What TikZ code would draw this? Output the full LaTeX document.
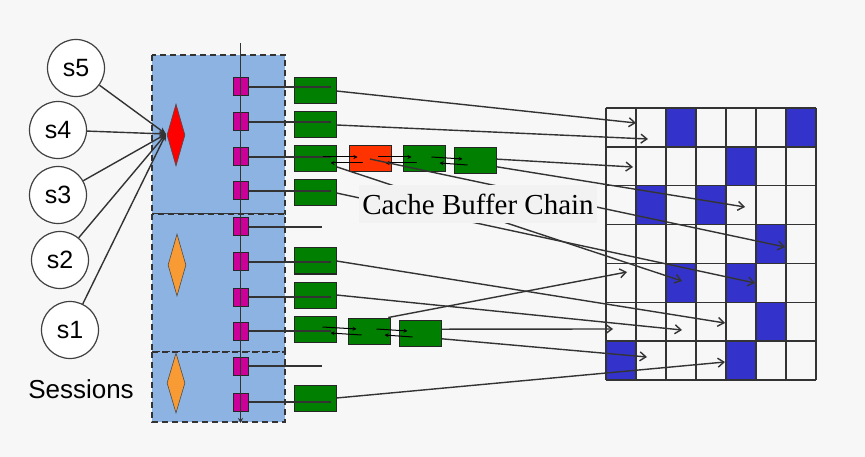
\documentclass[tikz,border=0pt]{standalone}
\usepackage{fontspec}
\setmainfont{Liberation Serif}
\setsansfont{Liberation Sans}
\usepackage{tikz}
\usetikzlibrary{shapes.geometric, arrows.meta, calc}
\definecolor{pagebg}{HTML}{F7F7F7}
\definecolor{panelbg}{HTML}{8DB3E2}
\definecolor{slotcol}{HTML}{CC0099}
\definecolor{bufgreen}{HTML}{007F00}
\definecolor{bufred}{HTML}{FF3300}
\definecolor{latchred}{HTML}{FF0000}
\definecolor{latchorange}{HTML}{F89B34}
\definecolor{cellblue}{HTML}{3333CC}
\definecolor{wirecol}{HTML}{333333}

\begin{document}
\begin{tikzpicture}[
    x=1pt, y=-1pt,
    every node/.style={inner sep=0pt},
    session/.style={circle, draw=black!75, line width=1.2pt, fill=white, minimum size=57pt, font=\sffamily\fontsize{25}{28}\selectfont},
    latch/.style={diamond, draw=black!70, line width=0.6pt, minimum width=18pt, minimum height=62pt},
    slot/.style={draw=black!85, fill=slotcol, line width=1pt, minimum width=15pt, minimum height=18pt},
    buffer/.style={draw=black!85, fill=bufgreen, line width=1pt, minimum width=42pt, minimum height=26pt},
    panel/.style={draw=black!80, fill=panelbg, dash pattern=on 6pt off 4pt, line width=1.3pt},
    wire/.style={draw=wirecol, line width=1.4pt},
    gridline/.style={draw=black!80, line width=1.5pt},
    hash/.style={wire, -{Straight Barb[length=6pt, width=9pt]}},
    link/.style={draw=black, line width=1pt, -{Stealth[length=4pt, width=4pt]}},
    sessionwire/.style={wire, -{Stealth[length=7pt, width=6pt]}}
]
\fill[pagebg] (0,0) rectangle (865,457);
\path[use as bounding box] (0,0) rectangle (865,457);

\draw[panel] (152,55) rectangle (285,214);
\draw[panel] (152,214) rectangle (285,352);
\draw[panel] (152,352) rectangle (285,422);

\node[latch, fill=latchred] (l1) at (176,135) {};
\node[latch, fill=latchorange] (l2) at (177,265) {};
\node[latch, fill=latchorange, minimum height=60pt] (l3) at (176,383) {};

\node[session] (s5) at (76,68) {s5};
\node[session] (s4) at (58,130) {s4};
\node[session] (s3) at (58,195) {s3};
\node[session] (s2) at (60,260) {s2};
\node[session] (s1) at (70,330) {s1};
\node[font=\sffamily\fontsize{26}{30}\selectfont] (sessions) at (81,389) {Sessions};

\coordinate (hub) at (166,134);
\foreach \i in {1,...,5}
  \draw[sessionwire] (s\i) -- (hub);

\foreach \y [count=\i] in {87,122,157,191,227,262,297,331,366,402}
  \node[slot] (m\i) at (240.5,\y) {};
\coordinate (bustop) at (240.5,43);
\coordinate (busend) at (240.5,423);
\draw[wire, -{Stealth[length=5pt, width=5pt]}] (bustop) -- (busend);

\node[buffer] (b1) at (315,91) {};
\node[buffer] (b2) at (315,125) {};
\node[buffer] (b3) at (315,159) {};
\node[buffer, fill=bufred] (b3r) at (370,159) {};
\node[buffer] (b3s) at (424,159) {};
\node[buffer] (b3t) at (475,161) {};
\node[buffer] (b4) at (315,193) {};
\node[buffer] (b6) at (315,261) {};
\node[buffer] (b7) at (315,295) {};
\node[buffer] (b8) at (315,329) {};
\node[buffer] (b8s) at (369,331) {};
\node[buffer] (b8t) at (420,333) {};
\node[buffer] (b10) at (315,398) {};

\foreach \i in {1,2,3,4,6,7,8,10}
  \draw[wire] (m\i.east) -- ($(m\i.east -| b\i.east)+(-6,0)$);
\coordinate (stub) at (322,0);
\foreach \i in {5,9}
  \draw[wire] (m\i.east) -- (m\i.east -| stub);

\foreach \a/\b in {b3/b3r, b3r/b3s, b3s/b3t, b8/b8s, b8s/b8t} {
  \draw[link] ($(\a.east)+(-14,-2)$) -- ($(\b.west)+(9,-2)$);
  \draw[link] ($(\b.west)+(14,4)$) -- ($(\a.east)+(-6,4)$);
}

\foreach \r/\c in {0/2,0/6,1/4,2/1,2/3,3/5,4/2,4/4,5/5,6/0,6/4}
  \fill[cellblue] (606+30*\c,108+38.857*\r) rectangle ++(30,38.857);
\foreach \i in {0,...,7} {
  \draw[gridline] (606+30*\i,108) -- (606+30*\i,380);
  \draw[gridline] (606,108+38.857*\i) -- (816,108+38.857*\i);
}

\coordinate (t1) at (636,123);
\coordinate (t2) at (648,139);
\coordinate (t3) at (633,167);
\coordinate (t4) at (745,207);
\coordinate (t5) at (785,247);
\coordinate (t6) at (682,281);
\coordinate (t7) at (755,283);
\coordinate (t8) at (627,272);
\coordinate (t9) at (725,323);
\coordinate (t10) at (682,330);
\coordinate (t11) at (613,329);
\coordinate (t12) at (647,357);
\coordinate (t13) at (725,362);

\foreach \s/\t in {b1.east/t1, b2.east/t2, b3t.5/t3, b3t.-15/t4, b3r.center/t5,
                   b3.-20/t6, b4.east/t7, b8s.35/t8, b6.east/t9, b7.east/t10,
                   b8t.10/t11, b8t.-15/t12, b10.east/t13}
  \draw[hash] (\s) -- (\t);

\node[fill=black!5, minimum width=238pt, minimum height=38pt, font=\fontsize{29}{32}\selectfont] (cbc) at (478,204) {Cache Buffer Chain};
\end{tikzpicture}
\end{document}
